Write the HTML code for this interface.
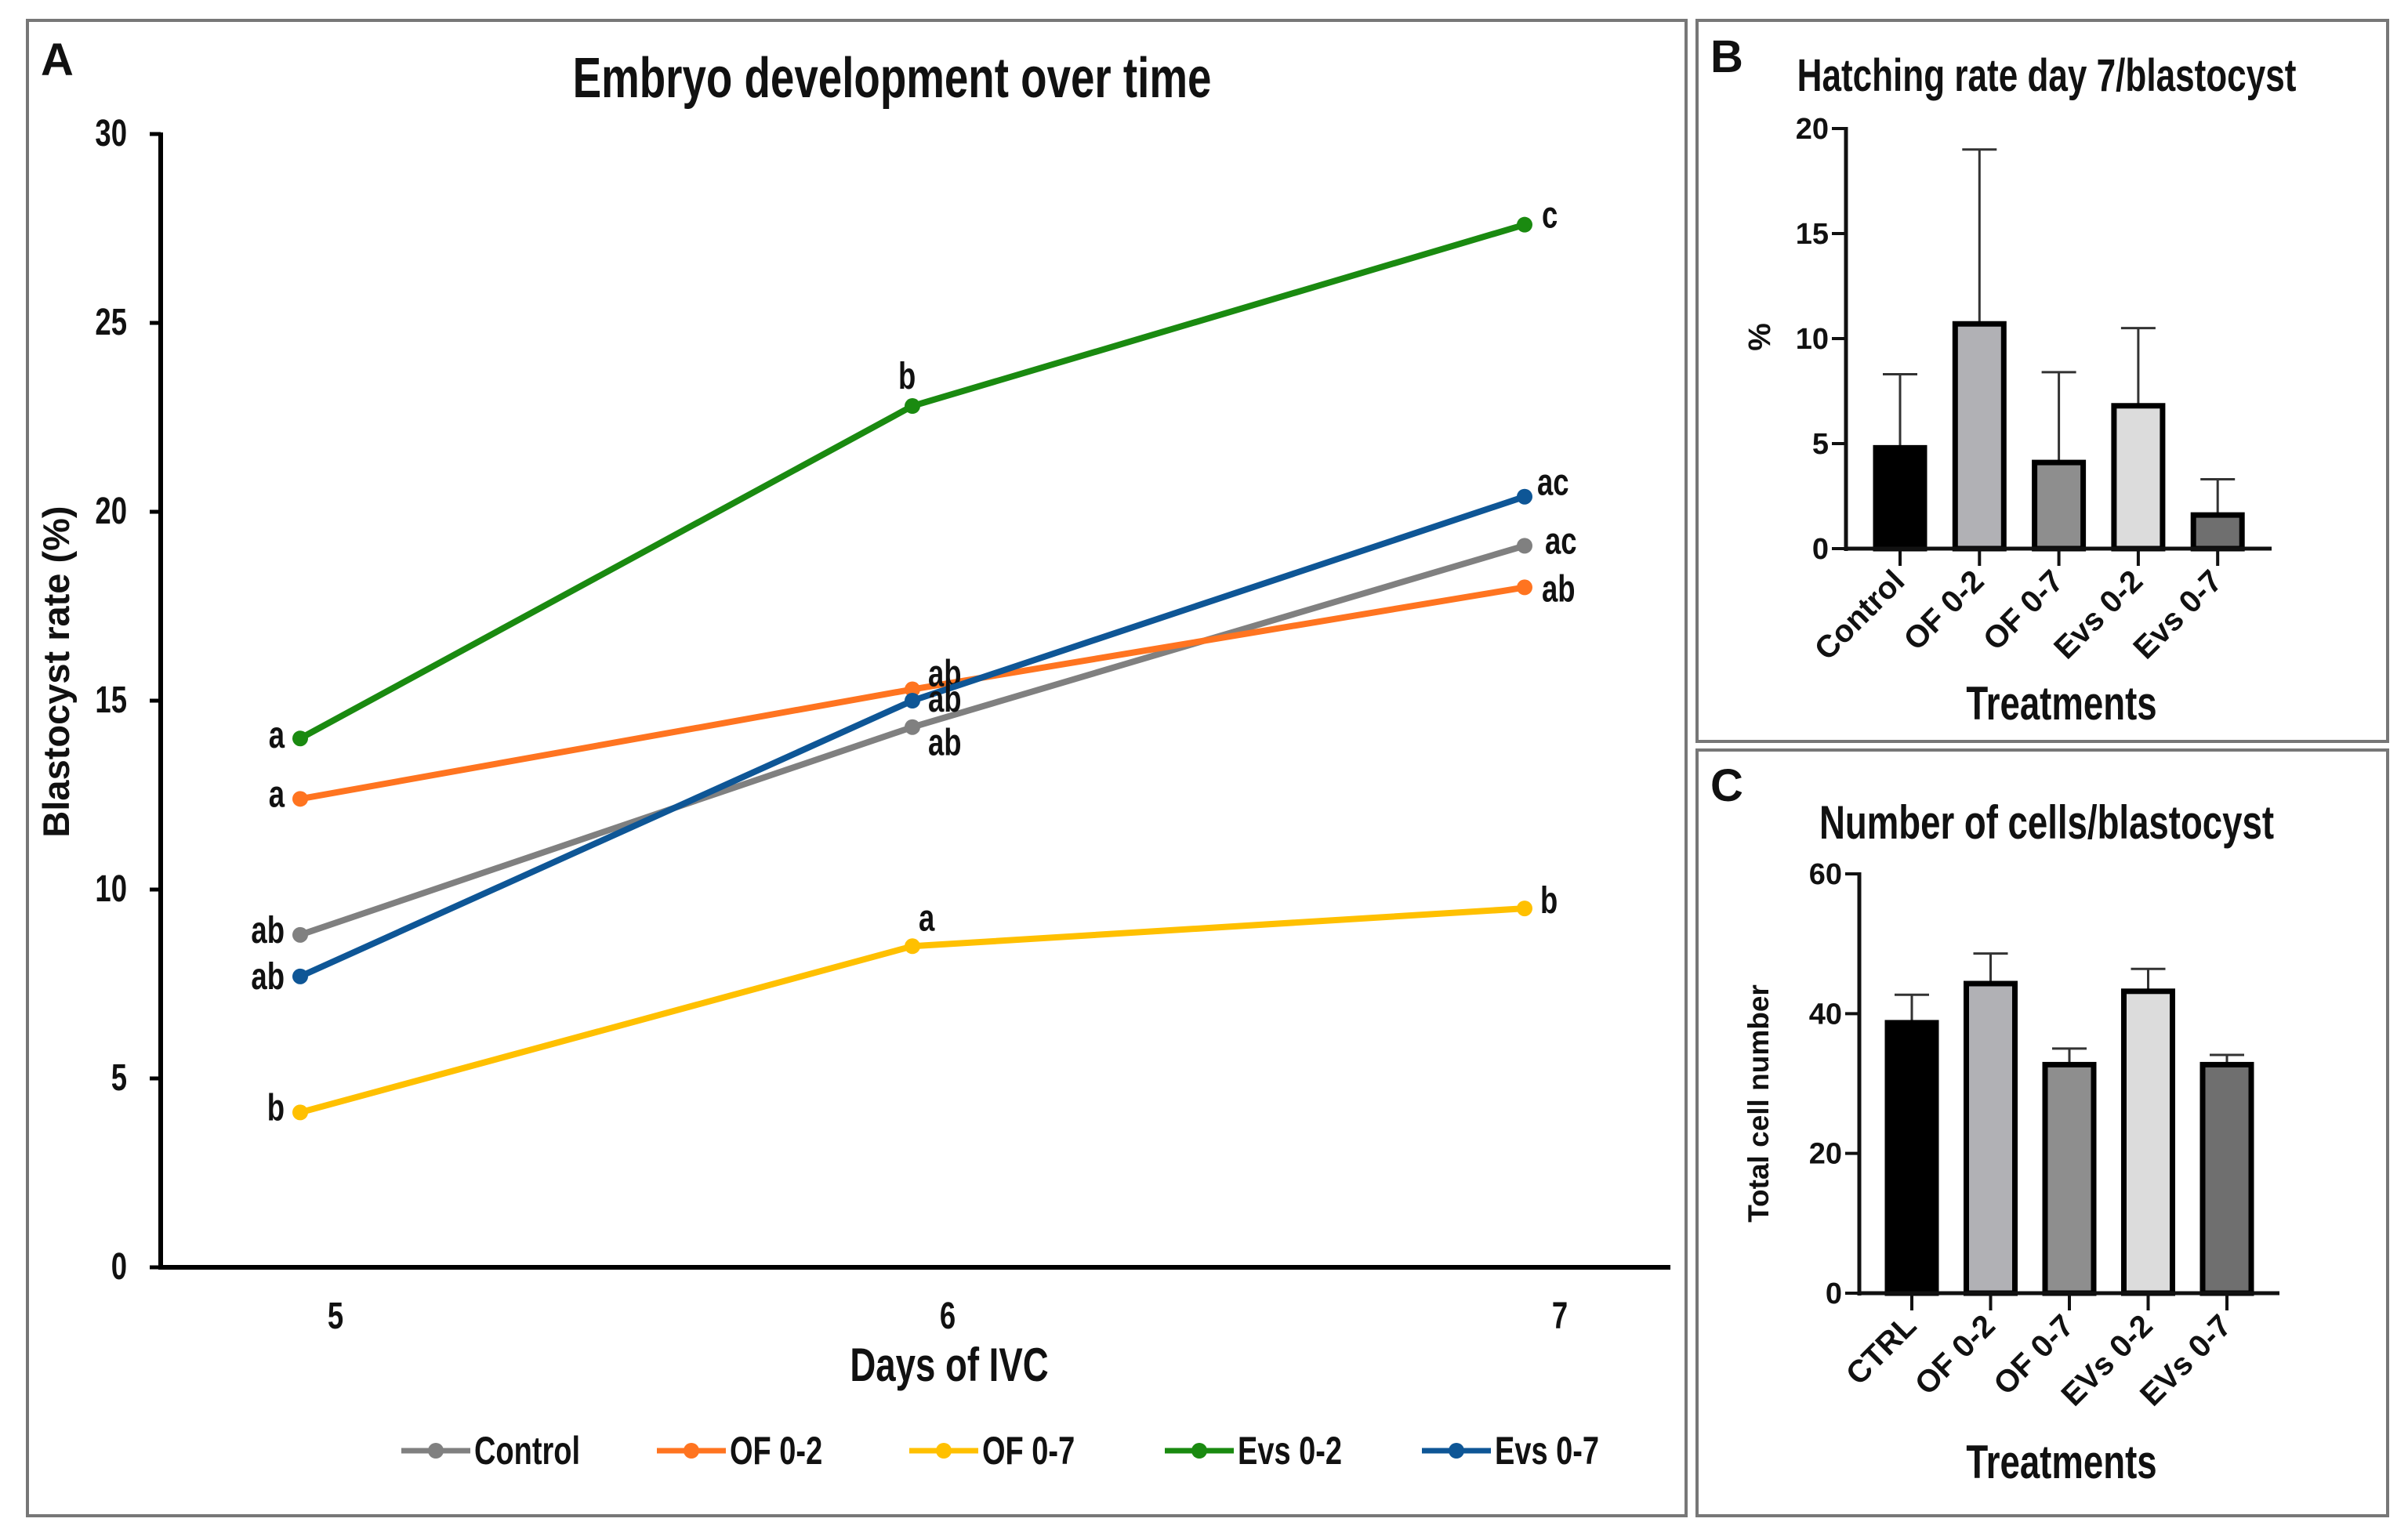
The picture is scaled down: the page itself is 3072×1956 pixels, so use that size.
<!DOCTYPE html>
<html><head><meta charset="utf-8">
<style>
html,body{margin:0;padding:0;background:#fff;}
svg{display:block;}
text{font-family:"Liberation Sans Narrow","Liberation Sans",sans-serif;font-weight:bold;fill:#111;}
.wide{font-family:"Liberation Sans",sans-serif;}
</style></head>
<body>
<svg id="fig" width="3072" height="1956" viewBox="0 0 3072 1956" xmlns="http://www.w3.org/2000/svg">
<rect x="35" y="26" width="2116" height="1908" fill="none" stroke="#777" stroke-width="4"/>
<rect x="2165" y="26" width="881" height="920" fill="none" stroke="#777" stroke-width="4"/>
<rect x="2165" y="957" width="881" height="977" fill="none" stroke="#777" stroke-width="4"/>
<g id="gA"></g>
<g id="gB"></g>
<g id="gC"></g>
</svg>
<script>
// ---- Panel A data ----
const daysA = [5, 6, 7];
const yTicksA = [0, 5, 10, 15, 20, 25, 30];
const seriesNames = ["Control", "OF 0-2", "OF 0-7", "Evs 0-2", "Evs 0-7"];
const controlVals = [8.8, 14.3, 19.1];
const of02Vals = [12.4, 15.3, 18.0];
const of07Vals = [4.1, 8.5, 9.5];
const evs02Vals = [14.0, 22.8, 27.6];
const evs07Vals = [7.7, 15.0, 20.4];
const controlLetters = ["ab", "ab", "ac"];
const of02Letters = ["a", "ab", "ab"];
const of07Letters = ["b", "a", "b"];
const evs02Letters = ["a", "b", "c"];
const evs07Letters = ["ab", "ab", "ac"];
// ---- Panel B data ----
const catsB = ["Control", "OF 0-2", "OF 0-7", "Evs 0-2", "Evs 0-7"];
const valsB = [4.8, 10.7, 4.1, 6.8, 1.6];
const errTopB = [8.3, 19.0, 8.4, 10.5, 3.3];
const yTicksB = [0, 5, 10, 15, 20];
// ---- Panel C data ----
const catsC = ["CTRL", "OF 0-2", "OF 0-7", "EVs 0-2", "EVs 0-7"];
const valsC = [38.7, 44.3, 32.7, 43.2, 32.7];
const errTopC = [42.7, 48.6, 35.0, 46.4, 34.1];
const yTicksC = [0, 20, 40, 60];

const NS = "http://www.w3.org/2000/svg";
function mk(tag, attrs, parent, txt) {
  const e = document.createElementNS(NS, tag);
  for (const k in attrs) e.setAttribute(k, attrs[k]);
  if (txt !== undefined) e.textContent = txt;
  parent.appendChild(e);
  return e;
}

// ===== Panel A =====
(function () {
  const g = document.getElementById("gA");
  const x0 = 205, yBase = 1617, yTop = 171, xEnd = 2131;
  const xA = d => 383 + (d - 5) * 781;
  const yA = v => yBase - (v / 30) * (yBase - yTop);
  let t;
  t = mk("text", { x: 52, y: 96, "font-size": 58, class: "wide" }, g, "A");
  
  
  t = mk("text", { x: 1138, y: 124, "font-size": 72, "text-anchor": "middle" }, g, "Embryo development over time");
  
  
  let l = mk("line", { x1: x0, y1: yTop - 2, x2: x0, y2: yBase + 3, stroke: "#000", "stroke-width": 6 }, g);
  
  
  l = mk("line", { x1: x0 - 3, y1: yBase, x2: xEnd, y2: yBase, stroke: "#000", "stroke-width": 6 }, g);
  
  
  yTicksA.forEach(v => {
    const tk = mk("line", { x1: x0 - 14, y1: yA(v), x2: x0, y2: yA(v), stroke: "#000", "stroke-width": 5 }, g);
    
    
    const tl = mk("text", { x: 162, y: yA(v) + 15, "font-size": 48, "text-anchor": "end" }, g, String(v));
    
    
  });
  daysA.forEach(d => {
    const tl = mk("text", { x: xA(d) + 45, y: 1695, "font-size": 48, "text-anchor": "middle" }, g, String(d));
    
    
  });
  t = mk("text", { x: 1211, y: 1762, "font-size": 60, "text-anchor": "middle" }, g, "Days of IVC");
  
  
  t = mk("text", { x: 0, y: 0, "font-size": 47, "text-anchor": "middle", class: "wide", transform: "translate(88,857) rotate(-90)" }, g, "Blastocyst rate (%)");
  
  

  const allVals = [controlVals, of02Vals, of07Vals, evs02Vals, evs07Vals];
  const allLetters = [controlLetters, of02Letters, of07Letters, evs02Letters, evs07Letters];
  const colors = ["#808080", "#ff7420", "#ffc000", "#1a8a10", "#0e5696"];
  const keys = ["control", "of-0-2", "of-0-7", "evs-0-2", "evs-0-7"];
  const offs = [
    [[-20, -4], [20, 22], [26, -4]],
    [[-20, -4], [20, -18], [22, 4]],
    [[-20, -4], [8, -34], [20, -8]],
    [[-20, -2], [-18, -36], [22, -10]],
    [[-20, 2], [20, 0], [16, -16]]
  ];
  const order = [0, 1, 2, 4, 3];
  order.forEach(s => {
    const vals = allVals[s];
    const pts = daysA.map((d, i) => xA(d) + "," + yA(vals[i])).join(" ");
    const pl = mk("polyline", { points: pts, fill: "none", stroke: colors[s], "stroke-width": 8, "stroke-linejoin": "round" }, g);
    
    
    daysA.forEach((d, i) => {
      const c = mk("circle", { cx: xA(d), cy: yA(vals[i]), r: 10, fill: colors[s] }, g);
      
      
      const o = offs[s][i];
      const anchor = i === 0 ? "end" : "start";
      const lt = mk("text", { x: xA(d) + o[0], y: yA(vals[i]) + o[1] + 14, "font-size": 48, "text-anchor": anchor }, g, allLetters[s][i]);
      
      
    });
  });
  const legX = [512, 838, 1160, 1486, 1814];
  seriesNames.forEach((n, s) => {
    const lg = mk("g", {}, g);
    
    
    mk("line", { x1: legX[s], y1: 1851, x2: legX[s] + 88, y2: 1851, stroke: colors[s], "stroke-width": 7 }, lg);
    mk("circle", { cx: legX[s] + 44, cy: 1851, r: 10, fill: colors[s] }, lg);
    mk("text", { x: legX[s] + 93, y: 1868, "font-size": 50 }, lg, n);
  });
})();

function barChart(gid, cats, vals, errs, ticks, ymax, cfg) {
  const g = document.getElementById(gid);
  const yB = v => cfg.base - (v / ymax) * (cfg.base - cfg.top);
  let t = mk("text", { x: 2182, y: cfg.letterY, "font-size": 58, class: "wide" }, g, cfg.letter);
  
  
  t = mk("text", { x: 2611, y: cfg.titleY, "font-size": cfg.titleSize, "text-anchor": "middle" }, g, cfg.title);
  
  
  let l = mk("line", { x1: cfg.x0, y1: cfg.top - 2, x2: cfg.x0, y2: cfg.base + 3, stroke: "#111", "stroke-width": 5 }, g);
  
  
  ticks.forEach(v => {
    const tk = mk("line", { x1: cfg.x0 - 18, y1: yB(v), x2: cfg.x0, y2: yB(v), stroke: "#111", "stroke-width": 4 }, g);
    
    
    const tl = mk("text", { x: cfg.x0 - 22, y: yB(v) + 13, "font-size": 38, "text-anchor": "end", class: "wide" }, g, String(v));
    
    
  });
  const fills = ["#000000", "#b1b1b5", "#8e8e8e", "#dcdcdc", "#6f6f6f"];
  const bw = 62;
  cats.forEach((c, i) => {
    const cx = cfg.x1 + i * cfg.step;
    const e = mk("line", { x1: cx, y1: yB(errs[i]), x2: cx, y2: yB(vals[i]), stroke: "#333", "stroke-width": 3 }, g);
    
    
    const ec = mk("line", { x1: cx - 22, y1: yB(errs[i]), x2: cx + 22, y2: yB(errs[i]), stroke: "#333", "stroke-width": 3 }, g);
    
    
    const r = mk("rect", { x: cx - bw / 2, y: yB(vals[i]), width: bw, height: cfg.base - yB(vals[i]), fill: fills[i], stroke: "#000", "stroke-width": 7 }, g);
    
    
    const tk = mk("line", { x1: cx, y1: cfg.base, x2: cx, y2: cfg.base + 22, stroke: "#111", "stroke-width": 4 }, g);
    
    
    const tl = mk("text", { x: cx + 8, y: cfg.base + 44, "font-size": 40, "text-anchor": "end", class: "wide", transform: `rotate(-45 ${cx + 8} ${cfg.base + 44})` }, g, c);
    
    
  });
  l = mk("line", { x1: cfg.x0 - 2, y1: cfg.base, x2: cfg.xEnd, y2: cfg.base, stroke: "#111", "stroke-width": 5 }, g);
  
  
  t = mk("text", { x: 2630, y: cfg.xtY, "font-size": 60, "text-anchor": "middle" }, g, "Treatments");
  
  
  t = mk("text", { x: 0, y: 0, "font-size": cfg.ytSize, "text-anchor": "middle", class: "wide", transform: `translate(${cfg.ytX},${cfg.ytY}) rotate(-90)` }, g, cfg.ytitle);
  
  
}
barChart("gB", catsB, valsB, errTopB, yTicksB, 20, {
  base: 700, top: 164, x0: 2355, x1: 2424, step: 101.3, xEnd: 2898,
  letter: "B", letterY: 92, title: "Hatching rate day 7/blastocyst", titleY: 116, titleSize: 58,
  xtY: 918, ytitle: "%", ytX: 2258, ytY: 430, ytSize: 40
});
barChart("gC", catsC, valsC, errTopC, yTicksC, 60, {
  base: 1650, top: 1115, x0: 2372, x1: 2439, step: 100.5, xEnd: 2908,
  letter: "C", letterY: 1022, title: "Number of cells/blastocyst", titleY: 1070, titleSize: 60,
  xtY: 1886, ytitle: "Total cell number", ytX: 2256, ytY: 1408, ytSize: 37
});

// condense non-wide text (Arial-Narrow look)
document.querySelectorAll('#fig text').forEach(t => {
  if (t.getAttribute('class') === 'wide' || t.getAttribute('transform')) return;
  const x = t.getAttribute('x'), y = t.getAttribute('y');
  t.setAttribute('x', 0);
  t.setAttribute('y', 0);
  t.setAttribute('transform', `translate(${x},${y}) scale(0.76,1)`);
});
</script>
</body></html>
